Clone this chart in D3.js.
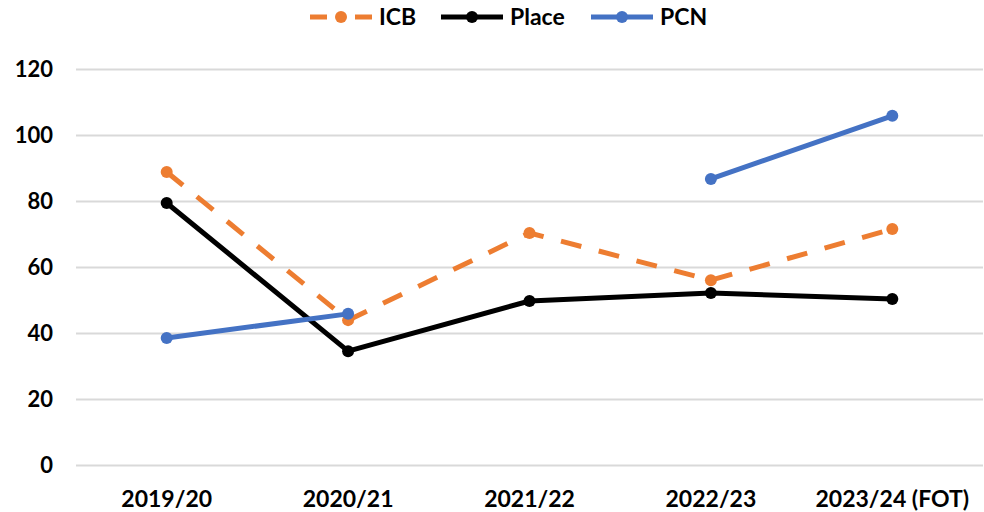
<!DOCTYPE html>
<html><head><meta charset="utf-8">
<script src="https://cdn.jsdelivr.net/npm/d3@7"></script>
<style>
body{margin:0;background:#fff;}
svg text{font-family:Lato,"Open Sans","Liberation Sans",Arial,sans-serif;font-weight:bold;fill:#000;}
</style></head>
<body><svg id="c" width="984" height="512"></svg>
<script>
const categories = ["2019/20","2020/21","2021/22","2022/23","2023/24 (FOT)"];
const icb = [88.8, 43.9, 70.3, 56.0, 71.5];
const place = [79.4, 34.5, 49.7, 52.1, 50.3];
const pcn = [38.5, 45.8, null, 86.7, 105.8];
const yTicks = [0,20,40,60,80,100,120];
const seriesNames = ["ICB","Place","PCN"];
const colors = ["#ED7D31","#000000","#4472C4"];

(function(){
const svg = d3.select("#c");
const pl = 76, pr = 983, pt = 69, pb = 465;
const x = d3.scaleBand().domain(categories).range([pl, pr]);
const y = d3.scaleLinear().domain([0,120]).range([pb, pt]);

const yAxis = d3.axisLeft(y).tickValues(yTicks).tickSize(-(pr - pl)).tickPadding(23).tickFormat(d3.format("d"));
const gy = svg.append("g").attr("transform", `translate(${pl},0)`).call(yAxis);
gy.select(".domain").remove();
gy.selectAll(".tick line").attr("stroke","#D9D9D9").attr("stroke-width",2);
gy.selectAll(".tick text").attr("font-size","22px");

const xAxis = d3.axisBottom(x).tickSize(0).tickPadding(26);
const gx = svg.append("g").attr("transform", `translate(0,${pb})`).call(xAxis);
gx.select(".domain").remove();
gx.selectAll(".tick text").attr("font-size","23px");

const data = [icb, place, pcn];
const line = d3.line().defined(d => d.v != null).x(d => x(d.c) + x.bandwidth()/2).y(d => y(d.v));

data.forEach((vals, i) => {
  const pts = categories.map((c, j) => ({c, v: vals[j]}));
  svg.append("path").datum(pts)
    .attr("d", line)
    .attr("fill","none")
    .attr("stroke", colors[i])
    .attr("stroke-width", 5)
    .attr("stroke-linejoin","round")
    .attr("stroke-dasharray", i === 0 ? "21,18" : null);
  svg.selectAll(null).data(pts.filter(d => d.v != null)).enter().append("circle")
    .attr("cx", d => x(d.c) + x.bandwidth()/2)
    .attr("cy", d => y(d.v))
    .attr("r", 6)
    .attr("fill", colors[i]);
});

const legendX = [310, 441, 591];
const lg = svg.append("g");
seriesNames.forEach((n, i) => {
  const g = lg.append("g").attr("transform", `translate(${legendX[i]},17)`);
  if (i === 0) {
    g.append("line").attr("x1",0).attr("x2",17).attr("stroke",colors[i]).attr("stroke-width",5);
    g.append("line").attr("x1",45).attr("x2",62).attr("stroke",colors[i]).attr("stroke-width",5);
  } else {
    g.append("line").attr("x1",0).attr("x2",62).attr("stroke", colors[i]).attr("stroke-width",5);
  }
  g.append("circle").attr("cx",31).attr("cy",0).attr("r",6).attr("fill",colors[i]);
  g.append("text").attr("x",69).attr("y",8).attr("font-size","23px").text(n);
});
})();
</script></body></html>
